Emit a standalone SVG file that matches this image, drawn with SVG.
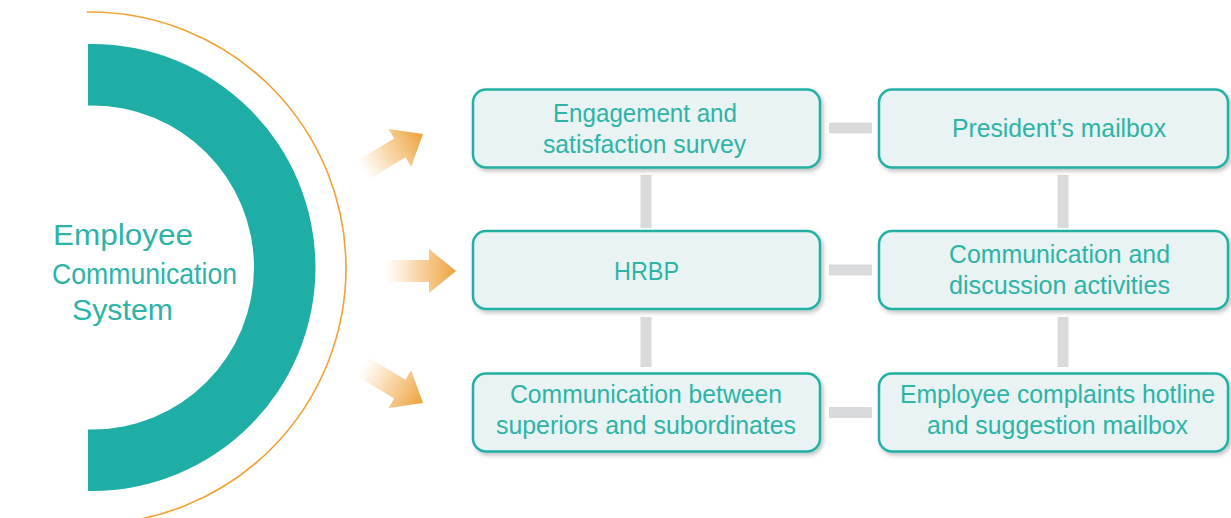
<svg xmlns="http://www.w3.org/2000/svg" width="1231" height="518" viewBox="0 0 1231 518">
<style>
.box{fill:#e9f3f3;stroke:#22b0a5;stroke-width:2.5}
.t{font-family:"Liberation Sans",Arial,sans-serif;font-size:25px;fill:#2db3a7;text-anchor:middle}
.title{font-family:"Liberation Sans",Arial,sans-serif;font-size:30px;fill:#2db3a7;text-anchor:middle}
.bar{fill:#d9dadb}
</style>
<defs>
<linearGradient id="ag" gradientUnits="userSpaceOnUse" x1="-71" y1="0" x2="0" y2="0">
<stop offset="0" stop-color="#f8c987" stop-opacity="0"/>
<stop offset="0.45" stop-color="#f3bb6e" stop-opacity="0.6"/>
<stop offset="1" stop-color="#eca035" stop-opacity="1"/>
</linearGradient>
<path id="arrow" d="M0,0 L-27,-22 L-27,-11 L-71,-11 L-71,11 L-27,11 L-27,22 Z"/>
<filter id="sh" x="-5%" y="-10%" width="112%" height="130%">
<feDropShadow dx="2" dy="2.5" stdDeviation="2" flood-color="#000" flood-opacity="0.25"/>
</filter>
</defs>

<g id="ring">
<path d="M88,44 L92,44 A223.5,223.5 0 0 1 92,491 L88,491 L88,429.5 L92,429.5 A162,162 0 0 0 92,105.5 L88,105.5 Z" fill="#1eaea6"/>
<path d="M87,12 L90,12 A256,256 0 0 1 90,524" fill="none" stroke="#f0a235" stroke-width="1.6"/>
</g>

<g id="title">
<text class="title" x="123" y="245" textLength="140" lengthAdjust="spacingAndGlyphs">Employee</text>
<text class="title" x="144.5" y="284" textLength="185" lengthAdjust="spacingAndGlyphs">Communication</text>
<text class="title" x="122.5" y="320" textLength="101" lengthAdjust="spacingAndGlyphs">System</text>
</g>

<g id="arrows" fill="url(#ag)">
<use href="#arrow" transform="translate(423,134) rotate(-31)"/>
<use href="#arrow" transform="translate(456,271)"/>
<use href="#arrow" transform="translate(423,403) rotate(31)"/>
</g>

<g id="connectors">
<rect class="bar" x="829" y="122.5" width="43" height="11"/>
<rect class="bar" x="829" y="264.5" width="43" height="11"/>
<rect class="bar" x="829" y="407" width="43" height="11"/>
<rect class="bar" x="640.5" y="175" width="11" height="53"/>
<rect class="bar" x="640.5" y="317" width="11" height="50"/>
<rect class="bar" x="1057.5" y="175" width="11" height="53"/>
<rect class="bar" x="1057.5" y="317" width="11" height="50"/>
</g>

<g id="node-survey">
<rect class="box" filter="url(#sh)" x="473" y="89.5" width="347" height="78" rx="13"/>
<text class="t" x="645" y="122" textLength="184" lengthAdjust="spacingAndGlyphs">Engagement and</text>
<text class="t" x="644.5" y="153" textLength="203" lengthAdjust="spacingAndGlyphs">satisfaction survey</text>
</g>
<g id="node-president">
<rect class="box" filter="url(#sh)" x="879" y="89.5" width="349" height="78" rx="13"/>
<text class="t" x="1059" y="137" textLength="214" lengthAdjust="spacingAndGlyphs">President’s mailbox</text>
</g>
<g id="node-hrbp">
<rect class="box" filter="url(#sh)" x="473" y="231" width="347" height="78" rx="13"/>
<text class="t" x="646.5" y="280" textLength="65" lengthAdjust="spacingAndGlyphs">HRBP</text>
</g>
<g id="node-activities">
<rect class="box" filter="url(#sh)" x="879" y="231" width="349" height="78" rx="13"/>
<text class="t" x="1059.5" y="263" textLength="221" lengthAdjust="spacingAndGlyphs">Communication and</text>
<text class="t" x="1059.5" y="294" textLength="221" lengthAdjust="spacingAndGlyphs">discussion activities</text>
</g>
<g id="node-superiors">
<rect class="box" filter="url(#sh)" x="473" y="373.5" width="347" height="78" rx="13"/>
<text class="t" x="646" y="403" textLength="272" lengthAdjust="spacingAndGlyphs">Communication between</text>
<text class="t" x="646" y="434" textLength="300" lengthAdjust="spacingAndGlyphs">superiors and subordinates</text>
</g>
<g id="node-hotline">
<rect class="box" filter="url(#sh)" x="879" y="373.5" width="349" height="78" rx="13"/>
<text class="t" x="1057.5" y="403" textLength="315" lengthAdjust="spacingAndGlyphs">Employee complaints hotline</text>
<text class="t" x="1057.5" y="434" textLength="261" lengthAdjust="spacingAndGlyphs">and suggestion mailbox</text>
</g>
</svg>
